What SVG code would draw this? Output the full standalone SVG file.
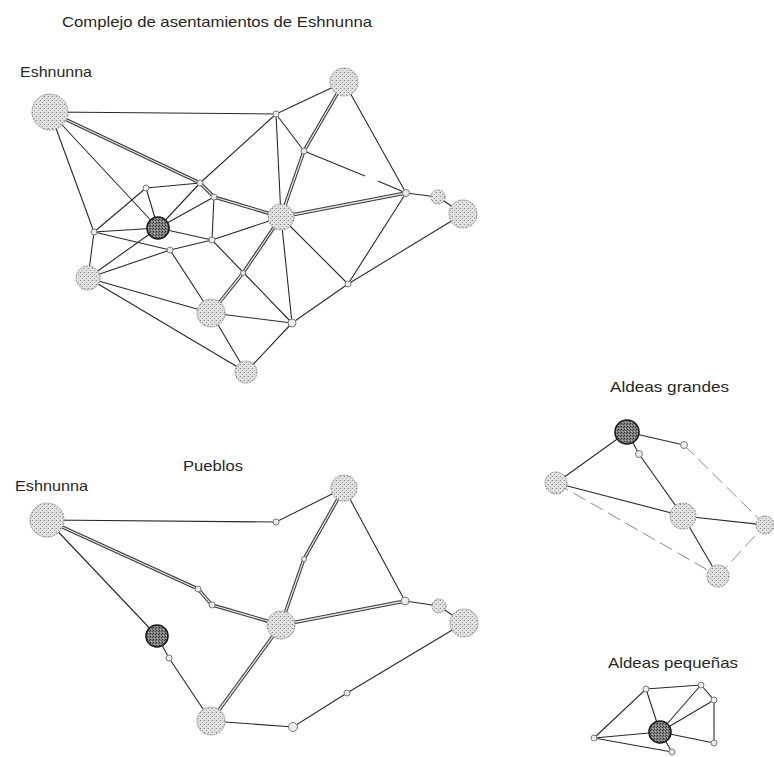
<svg xmlns="http://www.w3.org/2000/svg" width="774" height="757" viewBox="0 0 774 757">
<style>
text{font-family:"Liberation Sans",Arial,sans-serif;font-size:15px;fill:#262626}
.s{stroke:#2a2a2a;stroke-width:1.1;fill:none}
.f{stroke:#8a8a8a;stroke-width:1;fill:none;stroke-dasharray:14 6}
.do{stroke:#3a3a3a;stroke-width:3.4;fill:none}
.di{stroke:#e4e4e4;stroke-width:1.3;fill:none}
.n{fill:url(#stip);stroke:#8c8c8c;stroke-width:1;stroke-dasharray:2 1}
.dk{fill:url(#dstip);stroke:#1a1a1a;stroke-width:1.6}
.sm{fill:#ececec;stroke:#7a7a7a;stroke-width:1}
</style>
<defs>
<pattern id="stip" width="4" height="4" patternUnits="userSpaceOnUse">
<rect width="4" height="4" fill="#e2e2e2"/>
<rect x="0" y="0" width="1" height="1" fill="#8a8a8a"/>
<rect x="2" y="2" width="1" height="1" fill="#a0a0a0"/>
<rect x="3" y="0" width="1" height="1" fill="#c4c4c4"/>
</pattern>
<pattern id="dstip" width="3" height="3" patternUnits="userSpaceOnUse">
<rect width="3" height="3" fill="#808080"/>
<rect x="0" y="0" width="1" height="1" fill="#2e2e2e"/>
<rect x="2" y="1" width="1" height="1" fill="#4a4a4a"/>
<rect x="1" y="2" width="1" height="1" fill="#b0b0b0"/>
</pattern>
</defs>

<g id="labels">
<text x="62" y="27" textLength="310" lengthAdjust="spacingAndGlyphs">Complejo de asentamientos de Eshnunna</text>
<text x="20" y="77" textLength="72" lengthAdjust="spacingAndGlyphs">Eshnunna</text>
<text x="183" y="471" textLength="60" lengthAdjust="spacingAndGlyphs">Pueblos</text>
<text x="15" y="491" textLength="73" lengthAdjust="spacingAndGlyphs">Eshnunna</text>
<text x="610" y="392" textLength="119" lengthAdjust="spacingAndGlyphs">Aldeas grandes</text>
<text x="608" y="668" textLength="130" lengthAdjust="spacingAndGlyphs">Aldeas pequeñas</text>
</g>

<g id="connectors">
<!-- top graph single -->
<path class="s" d="M50,112L276,114M276,114L344,82M276,114L200,183M276,114L281,217M276,114L304,151M344,82L406,193M406,193L438,197M438,197L463,214M406,193L348,284M463,214L348,284M281,217L348,284M348,284L292,323M281,217L292,323M212,240L292,323M200,183L158,228M146,188L158,228M146,188L200,183M146,188L94,232M158,228L94,232M158,228L214,197M158,228L212,240M214,197L212,240M212,240L281,217M94,232L170,250M170,250L212,240M88,278L170,250M158,228L88,278M94,232L88,278M50,112L158,228M50,112L94,232M170,250L211,313M88,278L211,313M88,278L246,372M211,313L292,323M211,313L246,372M292,323L246,372"/>
<path class="s" d="M304,151L365,176M378,181L406,193" />
<!-- top graph double -->
<path class="do" d="M50,112L200,183L214,197L281,217M344,82L304,151L281,217M406,193L281,217M281,217L243,273L211,313"/>
<path class="di" d="M50,112L200,183L214,197L281,217M344,82L304,151L281,217M406,193L281,217M281,217L243,273L211,313"/>

<!-- bottom graph -->
<path class="s" d="M47,520L276,522L344,488M47,520L157,636M344,488L405,601M405,601L439,606L464,623M464,623L347,693L293,727L211,721M157,636L169,658L211,721"/>
<path class="do" d="M47,520L198,589L212,605L281,625M344,488L304,559L281,625M281,625L405,601M281,625L211,721"/>
<path class="di" d="M47,520L198,589L212,605L281,625M344,488L304,559L281,625M281,625L405,601M281,625L211,721"/>

<!-- aldeas grandes -->
<path class="s" d="M627,432L684,445M627,432L556,483M627,432L639,454L683,516M556,483L683,516M683,516L765,525M683,516L718,576"/>
<path class="f" d="M684,445L765,525M556,483L718,576M718,576L765,525"/>

<!-- aldeas pequeñas -->
<path class="s" d="M594,738L646,689L701,685L714,700L714,743M646,689L660,732M701,685L660,732M714,700L660,732M660,732L714,743M660,732L672,752M594,738L660,732M594,738L672,752"/>
</g>

<g id="nodes">
<g id="n-eshnunna"><circle class="n" cx="50" cy="112" r="18"/></g>
<g id="n-A"><circle class="sm" cx="276" cy="114" r="3"/></g>
<g id="n-B"><circle class="n" cx="344" cy="82" r="14"/></g>
<g id="n-C"><circle class="sm" cx="304" cy="151" r="3"/></g>
<g id="n-D"><circle class="sm" cx="406" cy="193" r="3.5"/></g>
<g id="n-F"><circle class="n" cx="438" cy="197" r="7"/></g>
<g id="n-G"><circle class="n" cx="463" cy="214" r="14"/></g>
<g id="n-H"><circle class="sm" cx="200" cy="183" r="3"/></g>
<g id="n-I"><circle class="sm" cx="146" cy="188" r="3"/></g>
<g id="n-J"><circle class="sm" cx="214" cy="197" r="3"/></g>
<g id="n-K"><circle class="dk" cx="158" cy="228" r="11"/></g>
<g id="n-L"><circle class="n" cx="281" cy="217" r="13"/></g>
<g id="n-M"><circle class="sm" cx="94" cy="232" r="3"/></g>
<g id="n-N"><circle class="sm" cx="212" cy="240" r="3"/></g>
<g id="n-O"><circle class="sm" cx="170" cy="250" r="3"/></g>
<g id="n-P"><circle class="n" cx="88" cy="278" r="12"/></g>
<g id="n-Q"><circle class="sm" cx="243" cy="273" r="2.5"/></g>
<g id="n-R"><circle class="n" cx="211" cy="313" r="14"/></g>
<g id="n-S"><circle class="sm" cx="292" cy="323" r="4"/></g>
<g id="n-T"><circle class="sm" cx="348" cy="284" r="3"/></g>
<g id="n-U"><circle class="n" cx="246" cy="372" r="11"/></g>

<g id="b-eshnunna"><circle class="n" cx="47" cy="520" r="17"/></g>
<g id="b-a"><circle class="sm" cx="276" cy="522" r="3"/></g>
<g id="b-B"><circle class="n" cx="344" cy="488" r="13"/></g>
<g id="b-b"><circle class="sm" cx="304" cy="559" r="2.5"/></g>
<g id="b-c1"><circle class="sm" cx="198" cy="589" r="3"/></g>
<g id="b-c2"><circle class="sm" cx="212" cy="605" r="3"/></g>
<g id="b-L"><circle class="n" cx="281" cy="625" r="14"/></g>
<g id="b-D"><circle class="sm" cx="405" cy="601" r="4"/></g>
<g id="b-F"><circle class="n" cx="439" cy="606" r="7"/></g>
<g id="b-G"><circle class="n" cx="464" cy="623" r="14"/></g>
<g id="b-K"><circle class="dk" cx="157" cy="636" r="11"/></g>
<g id="b-k"><circle class="sm" cx="169" cy="658" r="3"/></g>
<g id="b-R"><circle class="n" cx="211" cy="721" r="14"/></g>
<g id="b-S"><circle class="sm" cx="293" cy="727" r="4.5"/></g>
<g id="b-T"><circle class="sm" cx="347" cy="693" r="3"/></g>

<g id="g1"><circle class="dk" cx="627" cy="432" r="12"/></g>
<g id="g2"><circle class="sm" cx="684" cy="445" r="3.5"/></g>
<g id="g3"><circle class="sm" cx="639" cy="454" r="3.5"/></g>
<g id="g4"><circle class="n" cx="556" cy="483" r="11"/></g>
<g id="g5"><circle class="n" cx="683" cy="516" r="13"/></g>
<g id="g6"><circle class="n" cx="765" cy="525" r="9"/></g>
<g id="g7"><circle class="n" cx="718" cy="576" r="11"/></g>

<g id="p0"><circle class="dk" cx="660" cy="732" r="11"/></g>
<g id="p1"><circle class="sm" cx="646" cy="689" r="3"/></g>
<g id="p2"><circle class="sm" cx="701" cy="685" r="3"/></g>
<g id="p3"><circle class="sm" cx="714" cy="700" r="3"/></g>
<g id="p4"><circle class="sm" cx="594" cy="738" r="3"/></g>
<g id="p5"><circle class="sm" cx="714" cy="743" r="3"/></g>
<g id="p6"><circle class="sm" cx="672" cy="752" r="3"/></g>
</g>
</svg>
